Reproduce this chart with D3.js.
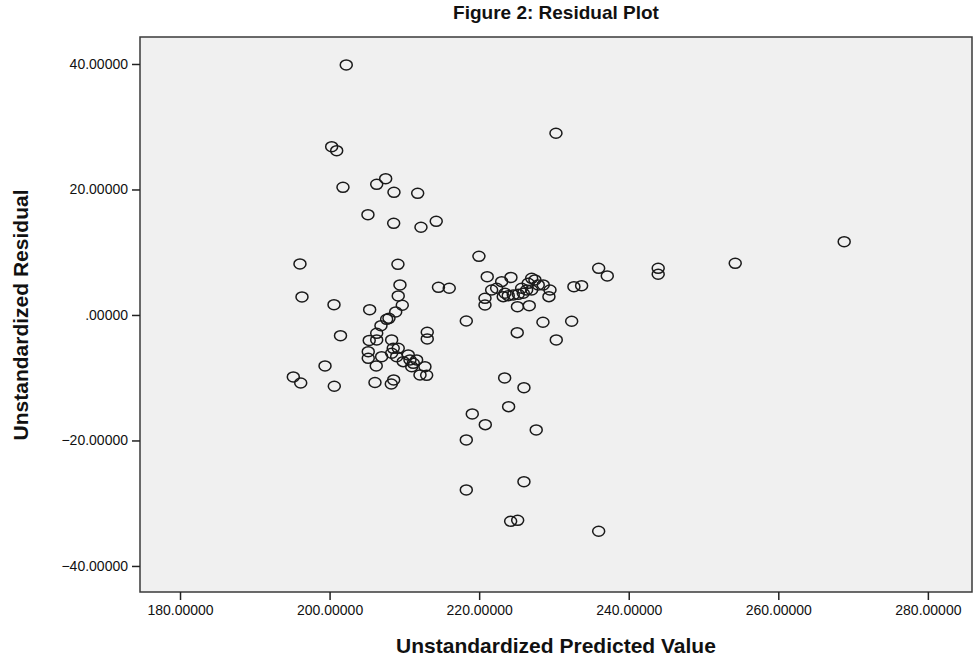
<!DOCTYPE html>
<html>
<head>
<meta charset="utf-8">
<script src="https://cdn.jsdelivr.net/npm/d3@7"></script>
<style>
  body { margin: 0; background: #fff; }
  text { font-family: "Liberation Sans", Arial, sans-serif; fill: #111; }
</style>
</head>
<body>
<div id="chart"></div>
<script>
// residual plot data
var predicted = [
  202.23, 230.27, 200.28, 200.95, 201.79, 206.30, 207.50, 208.61, 211.78, 205.13,
  208.57, 212.22, 214.26, 196.04, 209.14, 209.41, 196.31, 209.18, 200.59, 209.72,
  205.36, 208.84, 207.94, 207.63, 206.87, 206.30, 213.06, 213.06, 201.46, 205.30,
  206.30, 208.30, 208.51, 209.18, 205.17, 205.17, 206.96, 208.30, 208.97, 210.52,
  209.85, 210.75, 211.19, 211.64, 210.98, 212.75, 206.24, 199.39, 212.09, 212.98,
  195.15, 196.14, 200.63, 206.07, 208.57, 208.25,
  219.97, 221.08, 224.25, 235.98, 237.13, 243.94, 243.94, 214.56, 216.00, 223.01,
  227.02, 227.46, 226.56, 228.57, 227.90, 229.47, 229.33, 232.67, 233.70, 221.67,
  222.34, 220.78, 220.78, 223.45, 223.89, 224.56, 225.23, 225.90, 226.35, 225.68,
  227.02, 223.22, 225.12, 226.70, 218.28, 228.53, 232.37, 225.09, 230.31, 223.41,
  225.99, 223.94, 219.08, 220.82, 227.63, 218.28, 225.99, 218.28, 224.21, 225.15,
  235.98, 254.24, 268.81
];
var residual = [
  39.84, 28.96, 26.82, 26.18, 20.35, 20.83, 21.72, 19.55, 19.39, 15.98,
  14.61, 13.98, 14.93, 8.13, 8.08, 4.78, 2.87, 3.03, 1.64, 1.55,
  0.84, 0.48, -0.53, -0.69, -1.71, -2.92, -2.76, -3.82, -3.30, -4.06,
  -3.98, -3.98, -5.31, -5.31, -5.85, -6.90, -6.65, -6.10, -6.65, -6.37,
  -7.44, -7.17, -7.70, -7.17, -8.24, -8.24, -8.13, -8.13, -9.56, -9.61,
  -9.88, -10.84, -11.36, -10.76, -10.36, -11.00,
  9.35, 6.10, 5.98, 7.44, 6.22, 7.44, 6.49, 4.41, 4.26, 5.31,
  5.85, 5.58, 5.05, 4.78, 4.78, 3.98, 2.92, 4.51, 4.67, 3.98,
  4.26, 2.66, 1.59, 3.46, 3.08, 3.19, 3.30, 3.46, 3.98, 4.26,
  3.98, 2.92, 1.32, 1.48, -0.96, -1.16, -1.00, -2.82, -3.98, -10.04,
  -11.59, -14.61, -15.78, -17.48, -18.33, -19.92, -26.57, -27.89, -32.88, -32.72,
  -34.47, 8.24, 11.68
];
var xTicks = [180, 200, 220, 240, 260, 280];
var yTicks = [-40, -20, 0, 20, 40];
var xDomain = [174.65, 285.9];
var yDomain = [-44.15, 44.3];

var title = "Figure 2: Residual Plot";
var xTitle = "Unstandardized Predicted Value";
var yTitle = "Unstandardized Residual";

var W = 974, H = 656;
var margin = { left: 140, right: 2, top: 37, bottom: 64 };

var svg = d3.select("#chart").append("svg")
    .attr("width", W)
    .attr("height", H);

var x = d3.scaleLinear().domain(xDomain).range([margin.left, W - margin.right]);
var y = d3.scaleLinear().domain(yDomain).range([H - margin.bottom, margin.top]);

// spss style labels: ".00000" for zero
var fmt = function (d) {
    return d3.format(".5f")(d).replace(/^(-?)0\./, "$1.");
};

svg.append("rect")
    .attr("x", x.range()[0])
    .attr("y", y.range()[1])
    .attr("width", x.range()[1] - x.range()[0])
    .attr("height", y.range()[0] - y.range()[1])
    .attr("fill", "#f0f0f0")
    .attr("stroke", "#3a3a3a")
    .attr("stroke-width", 1.5);

var xAxis = svg.append("g")
    .attr("transform", "translate(0," + y.range()[0] + ")")
    .call(d3.axisBottom(x).tickValues(xTicks).tickFormat(fmt).tickSize(8).tickSizeOuter(0));
var yAxis = svg.append("g")
    .attr("transform", "translate(" + x.range()[0] + ",0)")
    .call(d3.axisLeft(y).tickValues(yTicks).tickFormat(fmt).tickSize(8).tickSizeOuter(0));

[xAxis, yAxis].forEach(function (g) {
    g.select(".domain").remove();
    g.selectAll(".tick line").attr("stroke", "#222").attr("stroke-width", 1.5);
    g.selectAll(".tick text")
        .attr("font-family", "'Liberation Sans', Arial, sans-serif")
        .attr("font-size", 14)
        .attr("fill", "#111");
});
xAxis.selectAll(".tick text").attr("dy", "0.85em");
yAxis.selectAll(".tick text").attr("dx", "-1px");

var pts = predicted.map(function (p, i) { return { p: p, r: residual[i] }; });

svg.append("g")
    .selectAll("ellipse")
    .data(pts)
    .enter().append("ellipse")
    .attr("cx", function (d) { return x(d.p); })
    .attr("cy", function (d) { return y(d.r); })
    .attr("rx", 6)
    .attr("ry", 5)
    .attr("fill", "none")
    .attr("stroke", "#1a1a1a")
    .attr("stroke-width", 1.5);

var midX = (x.range()[0] + x.range()[1]) / 2;

svg.append("text")
    .attr("x", midX)
    .attr("y", 19)
    .attr("text-anchor", "middle")
    .attr("font-size", 19)
    .attr("font-weight", "bold")
    .text(title);

svg.append("text")
    .attr("x", midX)
    .attr("y", 653)
    .attr("text-anchor", "middle")
    .attr("font-size", 21)
    .attr("font-weight", "bold")
    .text(xTitle);

svg.append("text")
    .attr("transform", "translate(28," + y(0) + ") rotate(-90)")
    .attr("text-anchor", "middle")
    .attr("font-size", 21)
    .attr("font-weight", "bold")
    .text(yTitle);
</script>
</body>
</html>
